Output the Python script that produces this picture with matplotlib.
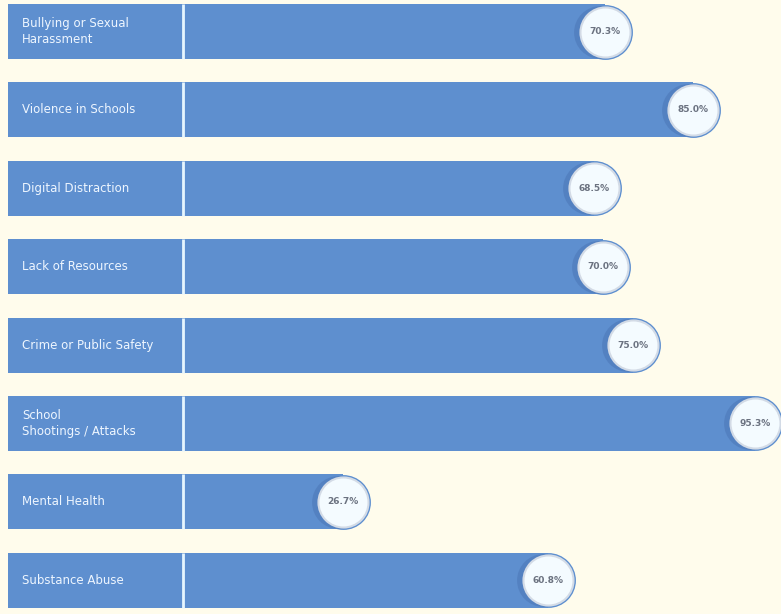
import matplotlib
matplotlib.use("Agg")
import matplotlib.pyplot as plt

# survey categories (top to bottom) and their shares in percent
categories = [
    "Bullying or Sexual\nHarassment",
    "Violence in Schools",
    "Digital Distraction",
    "Lack of Resources",
    "Crime or Public Safety",
    "School\nShootings / Attacks",
    "Mental Health",
    "Substance Abuse",
]
values = [70.3, 85.0, 68.5, 70.0, 75.0, 95.3, 26.7, 60.8]

BG = "#fffcec"
BAR = "#5e8fcf"
SHADE = "#4a74b4"
LABEL_START = -29.2   # left edge of the label panel, in value units

fig = plt.figure(figsize=(7.81, 6.14), dpi=100, facecolor=BG)
ax = fig.add_axes([0, 0, 1, 1])
ax.set_facecolor(BG)

ypos = list(range(len(categories)))
bar_h = 0.70

# label panel + bar body
ax.barh(ypos, [v - LABEL_START for v in values], left=LABEL_START,
        height=bar_h, color=BAR, linewidth=0, zorder=2)

# rounded bar ends
ax.scatter(values, ypos, s=1560, color=BAR, linewidths=0, zorder=2)

# divider between the label panel and the bar
ax.vlines([0] * len(ypos), [y - bar_h / 2 for y in ypos],
          [y + bar_h / 2 for y in ypos], color="#e6f6ff", linewidth=2, zorder=3)

# soft shadow and white value badge at the end of each bar
ax.scatter([v - 0.8 for v in values], ypos, s=1450, color=SHADE,
           alpha=0.5, linewidths=0, zorder=3)
ax.scatter(values, ypos, s=1300, color="#f4fbff", edgecolors="#d3dbe6",
           linewidths=1.5, zorder=4)

for y, label, v in zip(ypos, categories, values):
    ax.text(-26.8, y, label, color="#eef6ff", fontsize=8.5,
            va="center", ha="left", linespacing=1.25, zorder=5)
    ax.text(v, y, f"{v:.1f}%", color="#6b7280", fontsize=6.5,
            va="center", ha="center", fontweight="bold", zorder=5)

ax.set_xlim(-30.5, 99.67)
ax.set_ylim(7.43, -0.402)
ax.axis("off")

fig.savefig("out.png", dpi=100, facecolor=BG)
